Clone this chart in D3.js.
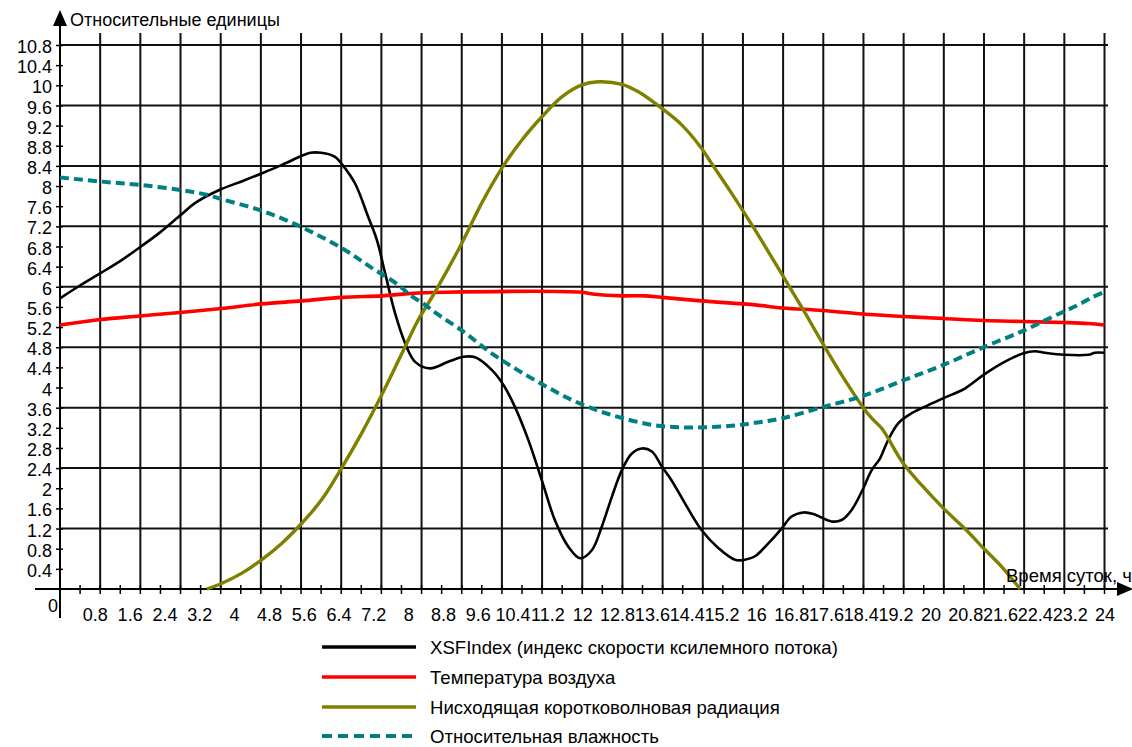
<!DOCTYPE html>
<html>
<head>
<meta charset="utf-8">
<script src="https://cdn.jsdelivr.net/npm/d3@7"></script>
<style>
  html, body { margin: 0; padding: 0; background: #fff; }
  text { font-family: "Liberation Sans", Arial, sans-serif; fill: #000; }
</style>
</head>
<body>
<svg id="chart" width="1132" height="747"></svg>
<script>
// ---- Data: hourly profile of the day, relative units ----
const xsfHours = [0, 0.45, 0.93, 1.4, 1.86, 2.3, 2.78, 3.1, 3.71, 4.2, 4.63, 5.1, 5.56, 5.75, 6.0, 6.32, 6.49, 6.78, 7.08, 7.28, 7.47, 7.7, 7.93, 8.16, 8.5, 8.92, 9.27, 9.54, 9.92, 10.19, 10.45, 10.76, 11.07, 11.37, 11.68, 11.95, 12.22, 12.45, 12.68, 12.91, 13.14, 13.37, 13.6, 13.83, 14.05, 14.36, 14.74, 15.13, 15.51, 15.74, 15.97, 16.28, 16.6, 16.81, 17.08, 17.31, 17.73, 17.96, 18.19, 18.42, 18.65, 18.84, 19.03, 19.26, 19.57, 19.95, 20.3, 20.79, 21.22, 21.64, 22.14, 22.4, 22.63, 23.07, 23.63, 23.78, 24];
const xsfValues = [5.77, 6.02, 6.27, 6.52, 6.8, 7.08, 7.43, 7.66, 7.94, 8.1, 8.25, 8.42, 8.6, 8.66, 8.66, 8.58, 8.42, 8.05, 7.39, 6.93, 6.27, 5.47, 4.88, 4.51, 4.38, 4.51, 4.61, 4.6, 4.35, 4.05, 3.62, 2.96, 2.16, 1.37, 0.84, 0.61, 0.77, 1.24, 1.83, 2.36, 2.69, 2.79, 2.73, 2.43, 2.16, 1.7, 1.17, 0.81, 0.58, 0.58, 0.65, 0.91, 1.22, 1.44, 1.52, 1.49, 1.34, 1.37, 1.57, 1.93, 2.36, 2.59, 2.96, 3.29, 3.49, 3.65, 3.79, 3.98, 4.25, 4.48, 4.68, 4.72, 4.69, 4.65, 4.65, 4.69, 4.69];

const tempHours = [0, 0.92, 1.84, 2.76, 3.71, 4.63, 5.56, 6.49, 7.4, 7.93, 8.85, 11.99, 12.29, 12.91, 13.44, 13.83, 14.74, 15.97, 16.6, 17.52, 18.44, 19.37, 20.3, 21.22, 22.14, 23.07, 23.63, 24];
const tempValues = [5.24, 5.35, 5.42, 5.49, 5.57, 5.66, 5.72, 5.79, 5.82, 5.86, 5.89, 5.89, 5.85, 5.82, 5.82, 5.79, 5.72, 5.64, 5.58, 5.53, 5.46, 5.41, 5.37, 5.33, 5.31, 5.29, 5.27, 5.24];

const radHours = [3.37, 3.71, 4.17, 4.63, 5.1, 5.55, 6.01, 6.49, 6.93, 7.39, 7.93, 8.23, 8.62, 9.23, 9.69, 10.15, 10.61, 11.11, 11.53, 11.99, 12.37, 12.91, 13.29, 13.83, 14.29, 14.74, 14.97, 15.43, 15.97, 16.6, 17.08, 17.52, 17.96, 18.44, 18.65, 18.88, 19.37, 19.8, 20.3, 20.79, 21.22, 21.64, 22.06];
const radValues = [0.0, 0.11, 0.31, 0.58, 0.91, 1.3, 1.77, 2.43, 3.09, 3.85, 4.81, 5.34, 5.9, 6.86, 7.66, 8.35, 8.91, 9.41, 9.77, 10.01, 10.07, 10.02, 9.87, 9.54, 9.21, 8.75, 8.45, 7.86, 7.13, 6.23, 5.54, 4.88, 4.25, 3.62, 3.39, 3.19, 2.5, 2.06, 1.6, 1.2, 0.81, 0.44, 0.0];

const humHours = [0, 0.93, 1.86, 2.78, 3.41, 3.71, 4.63, 5.56, 6.49, 7.12, 7.77, 8.04, 8.39, 8.65, 9.27, 9.9, 10.49, 11.11, 11.72, 12.33, 12.94, 13.6, 14.21, 14.82, 15.43, 15.97, 16.6, 17.52, 18.44, 19.37, 20.3, 21.22, 22.14, 22.82, 23.15, 23.44, 23.74, 24];
const humValues = [8.17, 8.09, 8.02, 7.92, 7.82, 7.74, 7.51, 7.18, 6.76, 6.4, 6.04, 5.84, 5.64, 5.47, 5.11, 4.69, 4.36, 4.05, 3.77, 3.55, 3.39, 3.26, 3.21, 3.21, 3.24, 3.3, 3.39, 3.61, 3.83, 4.14, 4.45, 4.8, 5.13, 5.41, 5.54, 5.66, 5.8, 5.9];

const seriesNames = [
  "XSFIndex (индекс скорости ксилемного потока)",
  "Температура воздуха",
  "Нисходящая коротковолновая радиация",
  "Относительная влажность"
];

const xTickLabels = ["0.8", "1.6", "2.4", "3.2", "4", "4.8", "5.6", "6.4", "7.2", "8", "8.8", "9.6", "10.4", "11.2", "12", "12.8", "13.6", "14.4", "15.2", "16", "16.8", "17.6", "18.4", "19.2", "20", "20.8", "21.6", "22.4", "23.2", "24"];
const yTickLabels = ["0.4", "0.8", "1.2", "1.6", "2", "2.4", "2.8", "3.2", "3.6", "4", "4.4", "4.8", "5.2", "5.6", "6", "6.4", "6.8", "7.2", "7.6", "8", "8.4", "8.8", "9.2", "9.6", "10", "10.4", "10.8"];
const yGridValues = [1.2, 2.4, 3.6, 4.8, 6, 7.2, 8.4, 9.6, 10.8];
const xGridDivisions = 26;

const yAxisTitle = "Относительные единицы";
const xAxisTitle = "Время суток, ч";

// ---- Setup ----
const svg = d3.select("#chart");
const FONT = 18;
const LEGEND_FONT = 18.6;

const x = d3.scaleLinear().domain([0, 24]).range([60, 1104.5]);
const y = d3.scaleLinear().domain([0, 10.8]).range([589, 45]);

// ---- Grid ----
const grid = svg.append("g").attr("stroke", "#111").attr("stroke-width", 2);
const gridHours = d3.range(1, xGridDivisions + 1).map(i => i * 24 / xGridDivisions);
grid.selectAll("line.v").data(gridHours).join("line")
  .attr("class", "v")
  .attr("x1", d => x(d)).attr("x2", d => x(d))
  .attr("y1", 33).attr("y2", y(0));
grid.selectAll("line.h").data(yGridValues).join("line")
  .attr("class", "h")
  .attr("x1", x(0)).attr("x2", 1108)
  .attr("y1", d => y(d)).attr("y2", d => y(d));

// ---- Axes ----
const yAxis = d3.axisLeft(y)
  .tickValues(yTickLabels.map(Number))
  .tickFormat((d, i) => yTickLabels[i])
  .tickSize(4).tickPadding(4);
const gy = svg.append("g").attr("transform", `translate(${x(0)},0)`).call(yAxis);
gy.select(".domain").remove();
gy.selectAll(".tick line").attr("x1", 3).attr("x2", -4).attr("stroke", "#000").attr("stroke-width", 1.5);
gy.selectAll(".tick text").attr("font-size", FONT).attr("font-family", "Liberation Sans, Arial, sans-serif").attr("fill", "#000").attr("dy", "0.42em");

const xAxis = d3.axisBottom(x)
  .tickValues(xTickLabels.map(Number))
  .tickFormat((d, i) => xTickLabels[i])
  .tickSize(0).tickPadding(19);
const gx = svg.append("g").attr("transform", `translate(0,${y(0)})`).call(xAxis);
gx.select(".domain").remove();
gx.selectAll(".tick text").attr("font-size", FONT).attr("font-family", "Liberation Sans, Arial, sans-serif").attr("fill", "#000");

// minor ticks along the time axis
const minorHours = d3.range(1, xGridDivisions * 2 + 1).map(i => i * 12 / xGridDivisions);
svg.append("g").attr("stroke", "#000").attr("stroke-width", 1.5)
  .selectAll("line").data(minorHours).join("line")
  .attr("x1", d => x(d)).attr("x2", d => x(d))
  .attr("y1", y(0) - 4).attr("y2", y(0) + 5);

// axis lines with arrowheads
svg.append("line").attr("x1", 35).attr("x2", 1120).attr("y1", y(0)).attr("y2", y(0))
  .attr("stroke", "#000").attr("stroke-width", 2);
svg.append("line").attr("x1", x(0)).attr("x2", x(0)).attr("y1", 24).attr("y2", 618)
  .attr("stroke", "#000").attr("stroke-width", 2);
svg.append("path").attr("d", `M1117,${y(0) - 7}L1133,${y(0)}L1117,${y(0) + 7}Z`).attr("fill", "#000");
svg.append("path").attr("d", `M${x(0) - 7},26L${x(0)},10L${x(0) + 7},26Z`).attr("fill", "#000");

svg.append("text").attr("x", 53).attr("y", 612).attr("text-anchor", "middle")
  .attr("font-size", FONT).text("0");
svg.append("text").attr("x", 70).attr("y", 26).attr("font-size", FONT).text(yAxisTitle);

// ---- Series ----
const line = d3.line().x(d => x(d[0])).y(d => y(d[1])).curve(d3.curveCatmullRom.alpha(0.5));
const zipSeries = (hs, vs) => hs.map((h, i) => [h, vs[i]]);

const series = [
  { name: seriesNames[0], data: zipSeries(xsfHours, xsfValues), color: "#000000", width: 2.6, dash: null },
  { name: seriesNames[1], data: zipSeries(tempHours, tempValues), color: "#ff0000", width: 3.6, dash: null },
  { name: seriesNames[2], data: zipSeries(radHours, radValues), color: "#808000", width: 3.4, dash: null },
  { name: seriesNames[3], data: zipSeries(humHours, humValues), color: "#008080", width: 4, dash: "9,5" }
];

svg.append("g").selectAll("path").data(series).join("path")
  .attr("d", d => line(d.data))
  .attr("fill", "none")
  .attr("stroke", d => d.color)
  .attr("stroke-width", d => d.width)
  .attr("stroke-dasharray", d => d.dash)
  .attr("stroke-linejoin", "round");

svg.append("text").attr("x", 1006).attr("y", 582).attr("font-size", 18.5).text(xAxisTitle);

// ---- Legend ----
const legendY = [647, 677, 707, 736];
const legend = svg.append("g").selectAll("g").data(series).join("g")
  .attr("transform", (d, i) => `translate(0,${legendY[i]})`);
legend.append("line").attr("x1", 322).attr("x2", 416).attr("y1", 0).attr("y2", 0)
  .attr("stroke", d => d.color).attr("stroke-width", d => d.dash ? 4 : 3.4)
  .attr("stroke-dasharray", d => d.dash ? "10,6" : null);
legend.append("text").attr("x", 430).attr("dy", "0.35em").attr("font-size", LEGEND_FONT).text(d => d.name);
</script>
</body>
</html>
